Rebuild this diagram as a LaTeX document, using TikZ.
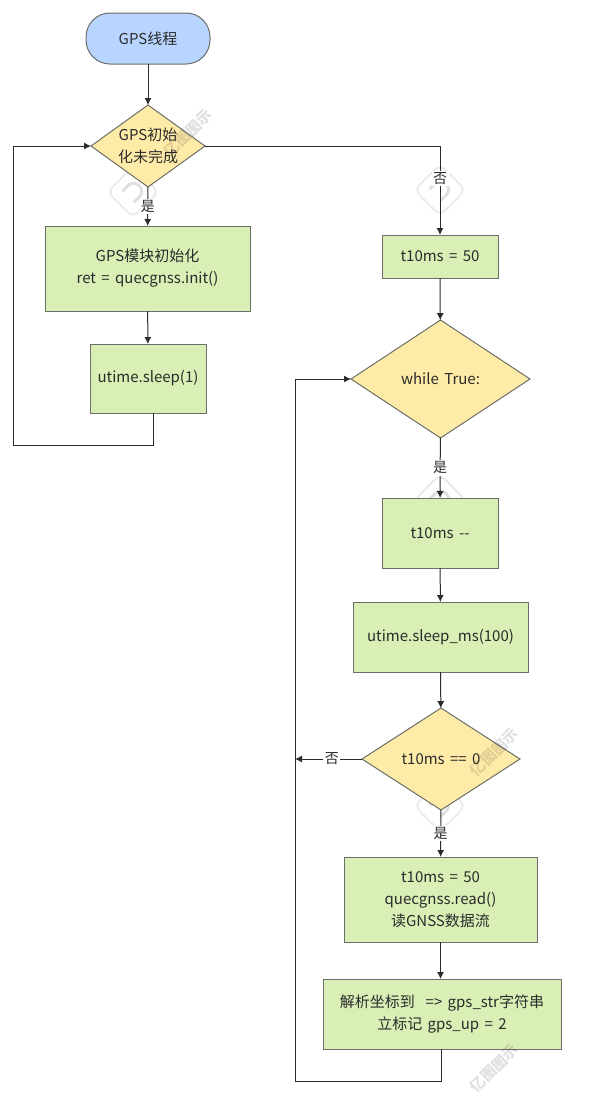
\documentclass[tikz,border=0pt]{standalone}
\usepackage{fontspec}
\setmainfont{Noto Sans CJK SC}[WordSpace=1.6]
\usetikzlibrary{arrows.meta,shapes.geometric}
\definecolor{StartBlue}{HTML}{B9D5FF}
\definecolor{DecYellow}{HTML}{FFEBA8}
\definecolor{StepGreen}{HTML}{D9EFB5}
\definecolor{EdgeGray}{HTML}{6B6F68}
\definecolor{DarkText}{HTML}{2B2B2B}
\tikzset{
  base/.style={draw=EdgeGray, line width=1pt, outer sep=0pt, inner sep=0pt, align=center, text=DarkText, font=\fontsize{15}{22}\selectfont},
  startbox/.style={base, rounded corners=24pt, fill=StartBlue},
  stepbox/.style={base, fill=StepGreen},
  decbox/.style={base, diamond, fill=DecYellow, shape aspect=1.45},
  arr/.style={-{Latex[length=7pt,width=7pt]}, line width=1pt, draw=DarkText},
  lab/.style={fill=white, inner sep=1.5pt, text=DarkText, font=\fontsize{14}{16}\selectfont},
  wmark/.style={rotate=45, text=black, text opacity=.12, font=\fontsize{15}{15}\selectfont\bfseries},
  wlogo/.style={rotate=45, draw=black!8, line width=2pt, rounded corners=7pt, minimum size=36pt},
  wglyph/.style={draw=black!12, line width=3pt}
}
\begin{document}
\begin{tikzpicture}[x=1pt,y=-1pt]
\useasboundingbox (0,0) rectangle (597,1112);
\foreach \i/\px/\py in {1/133/192,2/440/190,3/440/500,4/440/806}{
  \node[wlogo] (logo\i) at (\px,\py) {};
  \draw[wglyph,shift={(\px,\py)},rotate=45] (-7,-8) -- (1,-8) arc (-90:90:8) -- (-7,8);
}
\node[startbox, minimum width=124pt, minimum height=51pt] (start) at (148,38.5) {GPS线程};
\node[decbox, minimum width=114pt, minimum height=82pt] (initdec) at (148,146) {GPS初始\\化未完成};
\node[stepbox, minimum width=205pt, minimum height=85pt] (initbox) at (147.5,268.5) {GPS模块初始化\\ret = quecgnss.init()};
\node[stepbox, minimum width=116pt, minimum height=69pt] (sleepbox) at (148,378.5) {utime.sleep(1)};
\node[stepbox, minimum width=116pt, minimum height=43pt] (setbox) at (440,256.5) {t10ms = 50};
\node[decbox, minimum width=179pt, minimum height=118pt] (whiledec) at (440.5,379) {while True:};
\node[stepbox, minimum width=116pt, minimum height=70pt] (decbx) at (440,533) {t10ms -{}-};
\node[stepbox, minimum width=175pt, minimum height=70pt] (msbox) at (440.5,637) {utime.sleep\_ms(100)};
\node[decbox, minimum width=158pt, minimum height=102pt] (zerodec) at (441,759) {t10ms == 0};
\node[stepbox, minimum width=193pt, minimum height=85pt] (readbox) at (440.5,899.5) {t10ms = 50\\quecgnss.read()\\ 读GNSS数据流};
\node[stepbox, minimum width=238pt, minimum height=70pt] (parsebox) at (442,1014) {解析坐标到\ \ => gps\_str字符串\\立标记 gps\_up = 2};
\coordinate (loopa) at (153,445);
\coordinate (loopb) at (13,445);
\coordinate (loopc) at (13,146);
\coordinate (turn) at (440,146);
\coordinate (backa) at (441,1081);
\coordinate (backb) at (295,1081);
\coordinate (backc) at (295,379);
\coordinate (join) at (295,759);
\draw[arr] (start) -- (initdec);
\draw[arr] (initdec) -- node[lab] (yesa) {是} (initbox);
\draw[arr] (initbox) -- (sleepbox);
\draw[arr] (sleepbox.south -| loopa) -- (loopa) -- (loopb) -- (loopc) -- (initdec.west);
\draw[arr] (initdec.east) -- (turn) -- node[lab, pos=.37] (noa) {否} (setbox.north);
\draw[arr] (setbox) -- (whiledec);
\draw[arr] (whiledec) -- node[lab] (yesb) {是} (decbx);
\draw[arr] (decbx) -- (msbox);
\draw[arr] (msbox) -- (zerodec);
\draw[arr] (zerodec.west) -- node[lab, pos=.45] (nob) {否} (join);
\draw[arr] (zerodec) -- node[lab] (yesc) {是} (readbox);
\draw[arr] (readbox) -- (parsebox.north -| readbox);
\draw[arr] (parsebox.south -| backa) -- (backa) -- (backb) -- (backc) -- (whiledec.west);
\foreach \i/\px/\py in {1/188/133,2/494/752,3/494/1068}{
  \node[wmark] (mark\i) at (\px,\py) {亿图图示};
}
\end{tikzpicture}
\end{document}
